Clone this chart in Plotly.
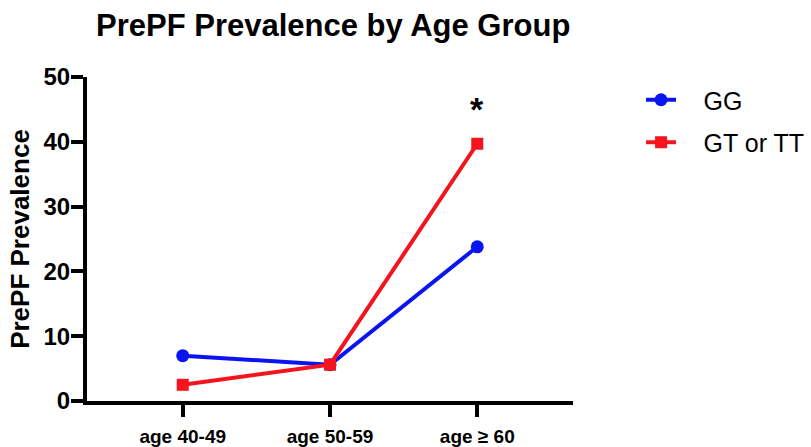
import plotly.graph_objects as go

categories = ["age 40-49", "age 50-59", "age \u2265 60"]
gg_values = [7.0, 5.6, 23.8]
gt_values = [2.5, 5.6, 39.7]
y_ticks = [0, 10, 20, 30, 40, 50]

FONT = "Arial, Liberation Sans, Helvetica, sans-serif"
PAD = "\u2002\u2009\u2009"

fig = go.Figure()
fig.add_trace(go.Scatter(
    x=categories, y=gg_values, name=PAD + "GG", mode="lines+markers",
    line=dict(color="#0A14F0", width=4),
    marker=dict(symbol="circle", size=13, color="#0A14F0"),
    cliponaxis=False, legendgroup="a",
))
fig.add_trace(go.Scatter(
    x=categories, y=gt_values, name=PAD + "GT or TT", mode="lines+markers",
    line=dict(color="#F5141E", width=4),
    marker=dict(symbol="square", size=12, color="#F5141E"),
    cliponaxis=False, legendgroup="b",
))

fig.add_annotation(
    x=categories[2], y=45.0, text="<b>*</b>", showarrow=False,
    font=dict(family=FONT, size=34, color="black"),
    yanchor="middle",
)

fig.update_layout(
    width=811, height=447,
    paper_bgcolor="white", plot_bgcolor="white",
    margin=dict(l=87, r=238, t=77, b=46, autoexpand=False),
    font=dict(family=FONT, color="black"),
    title=dict(
        text="<b>PrePF Prevalence by Age Group</b>",
        font=dict(family=FONT, size=31, color="black"),
        x=96 / 811, xanchor="left", xref="container",
        y=1 - 25 / 447, yanchor="middle", yref="container",
    ),
    showlegend=True,
    legend=dict(
        x=1.14, y=1.0, xanchor="left", yanchor="top",
        font=dict(family=FONT, size=25, color="black"),
        bgcolor="rgba(0,0,0,0)",
        tracegroupgap=7, traceorder="grouped",
    ),
    xaxis=dict(
        type="category",
        range=[-0.65, 2.65],
        automargin=False,
        showline=True, linecolor="black", linewidth=4,
        ticks="outside", ticklen=12, tickwidth=4, tickcolor="black",
        tickfont=dict(family=FONT, size=19, color="black", weight="bold"),
        ticklabelstandoff=3,
        showgrid=False, zeroline=False,
    ),
    yaxis=dict(
        range=[0, 50],
        automargin=False,
        tickvals=y_ticks,
        showline=True, linecolor="black", linewidth=4,
        ticks="outside", ticklen=12, tickwidth=4, tickcolor="black",
        tickfont=dict(family=FONT, size=24, color="black", weight="bold"),
        ticklabelstandoff=-4,
        showgrid=False, zeroline=False,
        title=dict(text="<b>PrePF Prevalence</b>",
                   font=dict(family=FONT, size=26, color="black"),
                   standoff=7),
    ),
)

fig.write_html(
    "out.html",
    config={"displayModeBar": False},
    post_script="document.body.style.margin='0';document.body.style.padding='0';",
)
